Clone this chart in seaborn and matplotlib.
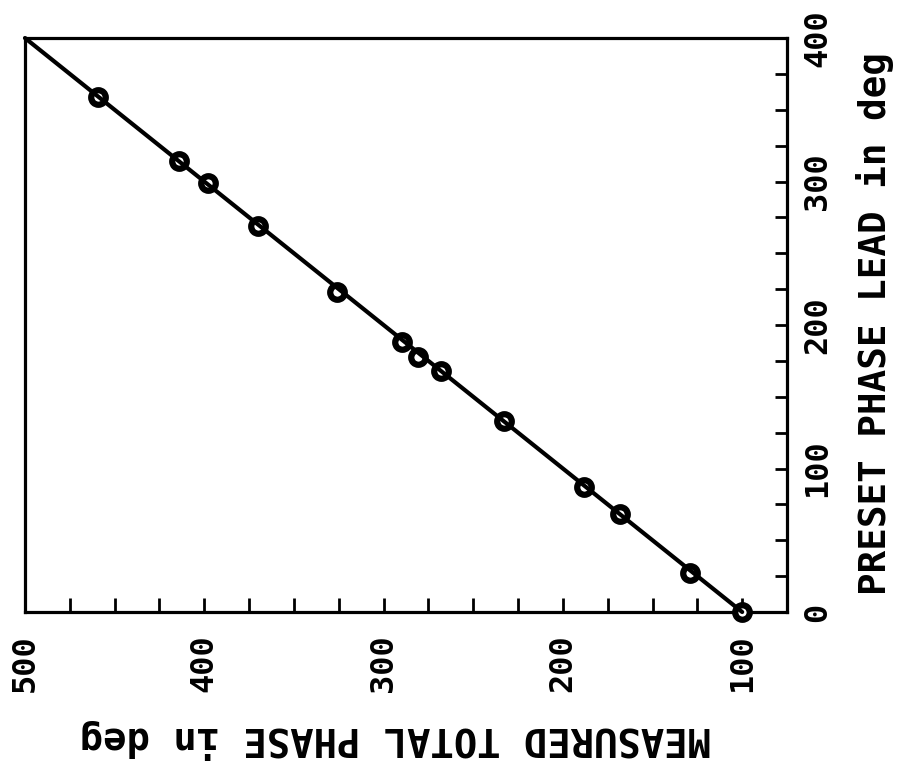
import matplotlib
matplotlib.use("Agg")
import matplotlib.pyplot as plt
from matplotlib.ticker import MultipleLocator
import seaborn as sns
import pandas as pd

# Measured total phase vs. preset phase lead (degrees)
measured_total_phase = [459, 414, 398, 370, 326, 290, 281, 268, 233, 188, 168, 129, 100]
preset_phase_lead = [359, 314, 299, 269, 223, 188, 178, 168, 133, 87, 68, 27, 0]

# Straight line through the data
fit_measured = [500, 100]
fit_preset = [400, 0]

x_major_ticks = [500, 400, 300, 200, 100]
y_major_ticks = [0, 100, 200, 300, 400]

points = pd.DataFrame({"measured": measured_total_phase, "preset": preset_phase_lead})
fit = pd.DataFrame({"measured": fit_measured, "preset": fit_preset})

sns.set_style("white")
plt.rcParams["font.family"] = ["DejaVu Sans Mono", "DejaVu Sans"]
plt.rcParams["font.weight"] = "bold"
plt.rcParams["text.color"] = "black"
plt.rcParams["axes.labelcolor"] = "black"
plt.rcParams["xtick.color"] = "black"
plt.rcParams["ytick.color"] = "black"

fig = plt.figure(figsize=(8.98, 7.71), dpi=100)
ax = fig.add_axes([0.0278, 0.2062, 0.8486, 0.7445])

sns.scatterplot(data=points, x="measured", y="preset", ax=ax, s=110,
                facecolor="white", edgecolor="black", linewidth=4.5,
                zorder=3, clip_on=False, legend=False)
sns.lineplot(data=fit, x="measured", y="preset", ax=ax, color="black",
             linewidth=3, zorder=4, clip_on=False, sort=False)

ax.set_xlim(500, 75)
ax.set_ylim(0, 400)

for side in ["left", "right", "top", "bottom"]:
    ax.spines[side].set_visible(True)
    ax.spines[side].set_color("black")
    ax.spines[side].set_linewidth(2.3)

ax.xaxis.set_major_locator(plt.FixedLocator(x_major_ticks))
ax.xaxis.set_minor_locator(MultipleLocator(25))
ax.yaxis.set_major_locator(plt.FixedLocator(y_major_ticks))
ax.yaxis.set_minor_locator(MultipleLocator(25))

ax.yaxis.tick_right()
ax.yaxis.set_label_position("right")

ax.tick_params(axis="x", which="both", direction="in", length=10, width=2,
               color="black", labelcolor="black", bottom=True, top=False, pad=16)
ax.tick_params(axis="y", which="both", direction="in", length=9, width=2,
               color="black", labelcolor="black", right=True, left=False, pad=11)

for lab in ax.get_xticklabels():
    lab.set_rotation(90)
    lab.set_fontsize(23)
    lab.set_fontweight("bold")
for lab in ax.get_yticklabels():
    lab.set_rotation(90)
    lab.set_fontsize(23)
    lab.set_fontweight("bold")
    lab.set_verticalalignment("center")

ax.set_xlabel("MEASURED TOTAL PHASE in deg", fontsize=28, fontweight="bold",
              rotation=180, ha="center", va="center", color="black")
ax.xaxis.set_label_coords(0.486, -0.221)
ax.set_ylabel("PRESET PHASE LEAD in deg", fontsize=27, fontweight="bold",
              rotation=90, ha="center", va="center", color="black")
ax.yaxis.set_label_coords(1.115, 0.503)

fig.savefig("out.png", dpi=100, facecolor="white")
